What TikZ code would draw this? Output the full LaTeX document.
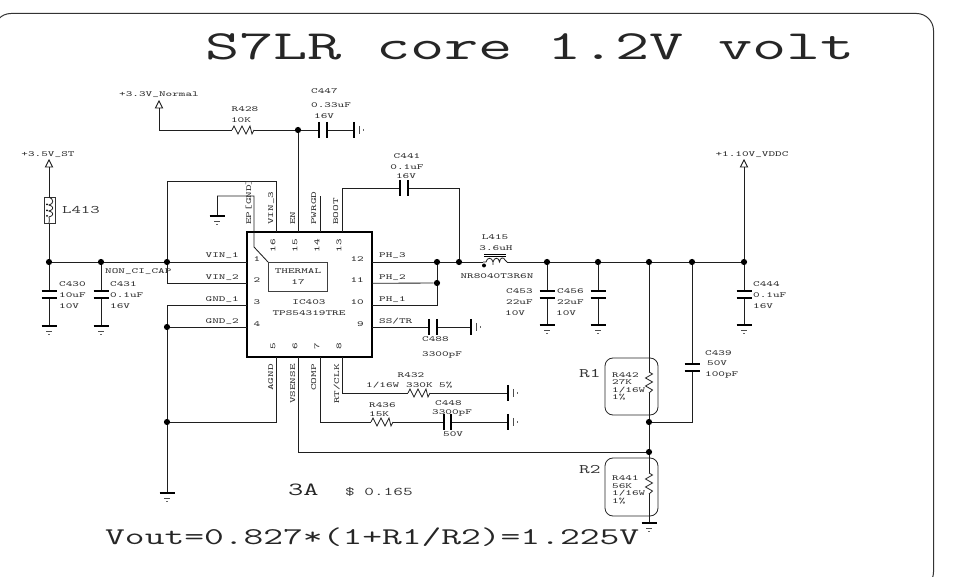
\documentclass[tikz,border=0pt]{standalone}
\usepackage{fontspec}
\newfontfamily\wfont[FakeStretch=1.6]{Latin Modern Mono}
\tikzset{
 wire/.style={line width=.85pt,draw=black!88,line join=miter},
 comp/.style={line width=.8pt,draw=black!88},
 plate/.style={line width=1.7pt,draw=black},
 jn/.style={circle,fill=black,inner sep=0pt,minimum size=6.2pt},
 lab/.style={inner sep=0pt,text=black!80,font=\wfont\fontsize{7.8}{8}\selectfont},
 ll/.style={lab,anchor=base west},
 lc/.style={lab,anchor=base},
 lr/.style={lab,anchor=base east},
 rup/.style={lab,rotate=90,anchor=base west},
 rdn/.style={lab,rotate=90,anchor=base east},
 gnddown/.pic={
  \draw[plate] (-7.5,0) -- (7.5,0);
  \draw[line width=.9pt,draw=black!70] (-3,5) -- (3,5);
  \draw[line width=.9pt,draw=black!60] (-1,8) -- (1,8);
 },
 gndright/.pic={
  \draw[plate] (0,-8) -- (0,8);
  \draw[line width=.9pt,draw=black!70] (5,-4) -- (5,4);
  \draw[line width=.9pt,draw=black!60] (9,-1) -- (9,1);
 },
 capv/.pic={
  \fill[white] (-6,-3.6) rectangle (6,3.6);
  \draw[plate] (-7.5,-3.6) -- (7.5,-3.6);
  \draw[plate] (-7.5,3.6) -- (7.5,3.6);
 },
 caph/.pic={
  \fill[white] (-3.8,-6) rectangle (3.8,6);
  \draw[plate] (-3.8,-8) -- (-3.8,8);
  \draw[plate] (3.8,-8) -- (3.8,8);
 },
 resh/.pic={
  \fill[white] (0,-3) rectangle (22,3);
  \draw[comp] (0,0) -- (2,-4) -- (6,4) -- (10,-4) -- (14,4) -- (18,-4) -- (20,4) -- (22,0);
 },
 resv/.pic={
  \fill[white] (-3,0) rectangle (3,21);
  \draw[comp] (0,0) -- (3.5,2) -- (-3.5,6) -- (3.5,10) -- (-3.5,14) -- (3.5,18) -- (0,21);
 },
 rail/.pic={
  \draw[line width=.9pt,draw=black!90,fill=white,line join=miter] (0,-7) -- (3.6,0) -- (-3.6,0) -- cycle;
 },
}
\begin{document}
\begin{tikzpicture}[x=1pt,y=-1pt]
\useasboundingbox (0,0) rectangle (954,577);
\draw[line width=1pt,draw=black!80,rounded corners=17pt] (-6,13.5) rectangle (933.5,589);
% junctions
\foreach \n/\x/\y in {vina/49/262,vinb/101/262,vinc/167/262,
  gnda/167/327,gndb/167/422,en/298/130,pha/437/262,phb/459/262,phc/437/283,
  oa/547/262,ob/598/262,oc/649/262,od/692/262,oe/744/262,fa/649/422,fb/649/452}
  \node[jn] (\n) at (\x,\y) {};
% IC
\node[draw=black,line width=2.4pt,minimum width=125pt,minimum height=125pt,inner sep=0pt,fill=white] (ic) at (309.5,294.5) {};
\node[draw=black!75,line width=.8pt,minimum width=59pt,minimum height=29pt,inner sep=0pt] (th) at (297.5,276.5) {};
% free ends and corners
\foreach \n/\x/\y in {p1/247/262,p2/247/283.3,p3/247/305,p4/247/327,
  p16/276/232,p15/298/232,p14/320/232,p13/342/232,
  p12/372/262,p11/372/283.3,p10/372/305,p9/372/327,
  p5/276/357,p6/298/357,p7/320/357,p8/342/357,
  pwr/320/196,ep/254/196,epb/254/247,epc/268/262,epd/217/196,
  g1/217/216,g2/49/326,g3/101/326,g4/547/325,g5/598/325,g6/744/325,g7/649/523,g8/167/493,
  g9/354/130,g10/471/327,g11/508/393,g12/508/422,
  vcc/159/108,vst/49/167,vdd/744/167,ltop/49/197,lbot/49/223,
  la/483/262,lb/507/262}
  \coordinate (\n) at (\x,\y);
% wires
\draw[wire] (vst) -- (ltop) (lbot) -- (vina);
\draw[wire] (vina) -- (vinb) -- (vinc) -- (p1);
\draw[wire] (vina) -- (g2) (vinb) -- (g3);
\draw[wire] (p16) |- (vinc |- 0,181) -- (vinc);
\draw[wire] (p2) -| (vinc);
\draw[wire] (p3) -| (gnda);
\draw[wire] (p4) -- (gnda) -- (gndb) -- (g8);
\draw[wire] (p5) |- (gndb);
\draw[wire] (vcc) |- (en);
\draw[wire] (en) -- (p15);
\draw[wire] (en) -- (g9);
\draw[wire] (p14) -- (pwr);
\draw[wire] (epd) -- (ep) -- (epb) -- (epc);
\draw[wire] (epd) -- (g1);
\draw[wire] (p13) |- (phb |- 0,188) -- (phb);
\draw[wire] (p12) -- (pha) -- (phb) -- (la);
\draw[wire] (lb) -- (oa) -- (ob) -- (oc) -- (od) -- (oe);
\draw[wire] (p11) -- (phc);
\draw[wire] (p10) -| (phc);
\draw[wire] (pha) -- (phc);
\draw[wire] (p9) -- (g10);
\draw[wire] (p8) |- (g11);
\draw[wire] (p7) |- (g12);
\draw[wire] (p6) |- (fb);
\draw[wire] (oa) -- (g4);
\draw[wire] (ob) -- (g5);
\draw[wire] (oe) -- (g6);
\draw[wire] (oe) -- (vdd);
\draw[wire] (oc) -- (fa) -- (fb) -- (g7);
\draw[wire] (od) |- (fa);
% symbols
\pic at (vst) {rail};
\pic at (vcc) {rail};
\pic at (vdd) {rail};
\foreach \p in {g1,g2,g3,g4,g5,g6,g7,g8} \pic at (\p) {gnddown};
\foreach \p in {g9,g10,g11,g12} \pic at (\p) {gndright};
\foreach \x/\y in {49/294.5,101/294.5,547/294.5,598/294.5,744/294.5,692/367.5} \pic at (\x,\y) {capv};
\foreach \x/\y in {323/130,404/188,433/327,447.5/422} \pic at (\x,\y) {caph};
\foreach \x/\y in {232/130,408/393,371/422} \pic at (\x,\y) {resh};
\foreach \x/\y in {649/372,649/473} \pic at (\x,\y) {resv};
% L413
\node[draw=black!80,line width=.8pt,minimum width=11pt,minimum height=26pt,inner sep=0pt] (lx) at (49.5,210) {};
\draw[comp] (49,197) .. controls (54,199) and (54,204) .. (49,205) .. controls (54,206) and (54,210) .. (49,211) .. controls (54,212) and (54,216) .. (49,217) .. controls (50,219) and (49,221) .. (49,223);
\fill (47,204.5) circle (1pt) (47,210.5) circle (1pt) (47,216) circle (1pt);
% L415
\draw[comp] (la) -- (486,262) .. controls (487,257) and (492,257) .. (493,262) .. controls (493,266) and (493,266) .. (493,262) .. controls (494,257) and (499,257) .. (499.5,262) .. controls (500,257) and (504,257) .. (505,260) -- (lb);
\draw[line width=.9pt] (484,254) -- (506,254) (484,256.2) -- (506,256.2);
\fill (484,265.5) circle (2pt);
% R boxes
\node[draw=black!85,line width=.8pt,rounded corners=8pt,minimum width=53pt,minimum height=57pt,inner sep=0pt] (ra) at (631.5,386.5) {};
\node[draw=black!85,line width=.8pt,rounded corners=8pt,minimum width=53pt,minimum height=58pt,inner sep=0pt] (rb) at (631.5,487) {};
% Title etc.
\node[lab,anchor=base west,text=black!85,font=\wfont\fontsize{41.5}{42}\selectfont] (title) at (205,60) {S7LR core 1.2V volt};
\node[lab,anchor=base west,text=black!85,font=\wfont\fontsize{24}{24}\selectfont] (vout) at (105,544) {Vout=0.827*(1+R1/R2)=1.225V};
\node[lab,anchor=base west,text=black!85,font=\wfont\fontsize{18.5}{18}\selectfont] (ia) at (288,496) {3A};
\node[lab,anchor=base west,text=black!80,font=\wfont\fontsize{11.7}{12}\selectfont] (pr) at (345,495) {\$ 0.165};
\node[lab,anchor=base west,text=black!80,font=\wfont\fontsize{13}{13}\selectfont] (rn1) at (579,378) {R1};
\node[lab,anchor=base west,text=black!80,font=\wfont\fontsize{13}{13}\selectfont] (rn2) at (579,474) {R2};
\node[lab,anchor=base west,text=black!80,font=\wfont\fontsize{11.4}{12}\selectfont] (ln) at (62,214) {L413};
% small text
\newcommand{\Tx}[4]{\node[#1] (t#2) at (#3) {#4};}
\Tx{lc}{a}{159,97}{+3.3V\_Normal}
\Tx{lc}{b}{48,157}{+3.5V\_ST}
\Tx{lc}{c}{752,157}{+1.10V\_VDDC}
\Tx{lc}{d}{245,112}{R428}
\Tx{lc}{e}{241,123}{10K}
\Tx{ll}{f}{311,94}{C447}
\Tx{ll}{g}{311,108}{0.33uF}
\Tx{ll}{h}{314,119}{16V}
\Tx{lc}{i}{407,159}{C441}
\Tx{lc}{j}{407,170}{0.1uF}
\Tx{lc}{k}{406,179}{16V}
\Tx{lc}{l}{495,240}{L415}
\Tx{lc}{m}{496,251}{3.6uH}
\Tx{lc}{n}{497,279}{NR8040T3R6N}
\Tx{ll}{o}{105,274}{NON\_CI\_CAP}
\Tx{ll}{p}{59,287}{C430}
\Tx{ll}{q}{59,298}{10uF}
\Tx{ll}{r}{59,309}{10V}
\Tx{ll}{s}{110,287}{C431}
\Tx{ll}{t}{110,298}{0.1uF}
\Tx{ll}{u}{110,309}{16V}
\Tx{ll}{v}{506,294}{C453}
\Tx{ll}{w}{506,305}{22uF}
\Tx{ll}{x}{505,316}{10V}
\Tx{ll}{y}{557,294}{C456}
\Tx{ll}{z}{557,305}{22uF}
\Tx{ll}{aa}{556,316}{10V}
\Tx{ll}{ab}{753,287}{C444}
\Tx{ll}{ac}{753,298}{0.1uF}
\Tx{ll}{ad}{753,309}{16V}
\Tx{ll}{ae}{422,342}{C488}
\Tx{ll}{af}{422,357}{3300pF}
\Tx{lc}{ag}{411,378}{R432}
\Tx{ll}{ah}{366,388}{1/16W}
\Tx{ll}{ai}{406,388}{330K}
\Tx{ll}{aj}{439,388}{5\%}
\Tx{ll}{ak}{369,408}{R436}
\Tx{ll}{al}{369,417}{15K}
\Tx{ll}{am}{435,406}{C448}
\Tx{ll}{an}{432,415}{3300pF}
\Tx{ll}{ao}{443,437}{50V}
\Tx{ll}{ap}{705,356}{C439}
\Tx{ll}{aq}{707,366}{50V}
\Tx{ll}{ar}{705,377}{100pF}
\Tx{ll}{as}{612,378}{R442}
\Tx{ll}{at}{612,385}{27K}
\Tx{ll}{au}{612,393}{1/16W}
\Tx{ll}{av}{612,400}{1\%}
\Tx{ll}{aw}{612,481}{R441}
\Tx{ll}{ax}{612,488}{56K}
\Tx{ll}{ay}{612,495}{1/16W}
\Tx{ll}{az}{612,503}{1\%}
\Tx{lc}{ba}{298,274}{THERMAL}
\Tx{lc}{bb}{298,285}{17}
\Tx{lc}{bc}{309,305}{IC403}
\Tx{lc}{bd}{309,316}{TPS54319TRE}
\Tx{lr}{be}{239,258}{VIN\_1}
\Tx{lr}{bf}{239,280}{VIN\_2}
\Tx{lr}{bg}{239,302}{GND\_1}
\Tx{lr}{bh}{239,324}{GND\_2}
\Tx{ll}{bi}{379,258}{PH\_3}
\Tx{ll}{bj}{379,280}{PH\_2}
\Tx{ll}{bk}{379,302}{PH\_1}
\Tx{ll}{bl}{379,324}{SS/TR}
\Tx{lc}{bm}{257,262}{1}
\Tx{lc}{bn}{257,283}{2}
\Tx{lc}{bo}{257,305}{3}
\Tx{lc}{bp}{257,327}{4}
\Tx{lr}{bq}{364,262}{12}
\Tx{lr}{br}{364,283}{11}
\Tx{lr}{bs}{364,305}{10}
\Tx{lr}{bt}{364,327}{9}
\Tx{rup}{bu}{251,225}{EP[GND]}
\Tx{rup}{bv}{273,225}{VIN\_3}
\Tx{rup}{bw}{295,225}{EN}
\Tx{rup}{bx}{316,225}{PWRGD}
\Tx{rup}{by}{338,225}{BOOT}
\Tx{rdn}{bz}{273,364}{AGND}
\Tx{rdn}{ca}{295,364}{VSENSE}
\Tx{rdn}{cb}{316,364}{COMP}
\Tx{rdn}{cc}{339,364}{RT/CLK}
\Tx{lab,rotate=90}{cd}{273,246}{16}
\Tx{lab,rotate=90}{ce}{295,246}{15}
\Tx{lab,rotate=90}{cf}{317,246}{14}
\Tx{lab,rotate=90}{cg}{339,246}{13}
\Tx{lab,rotate=90}{ch}{273,346}{5}
\Tx{lab,rotate=90}{ci}{295,346}{6}
\Tx{lab,rotate=90}{cj}{317,346}{7}
\Tx{lab,rotate=90}{ck}{339,346}{8}
\end{tikzpicture}
\end{document}
